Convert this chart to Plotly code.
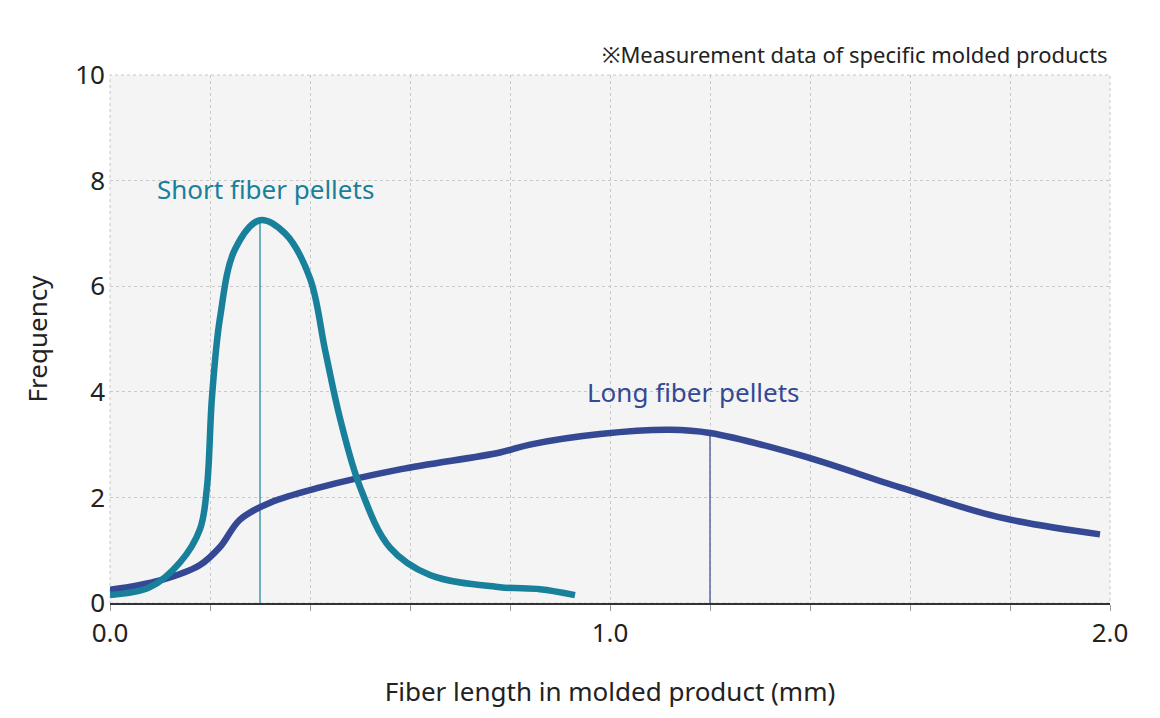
import plotly.graph_objects as go

# Short fiber pellets
short_x = [0.0, 0.08, 0.14, 0.18, 0.194, 0.204, 0.22, 0.25, 0.3, 0.35, 0.4, 0.43, 0.46, 0.5, 0.56, 0.64, 0.78, 0.86, 0.93]
short_y = [0.15, 0.3, 0.77, 1.4, 2.2, 3.9, 5.4, 6.7, 7.25, 7.0, 6.15, 4.8, 3.5, 2.2, 1.05, 0.53, 0.3, 0.26, 0.15]
short_peak = (0.3, 7.22)

# Long fiber pellets
long_x = [0.0, 0.1, 0.18, 0.22, 0.26, 0.32, 0.42, 0.58, 0.78, 0.84, 0.98, 1.12, 1.2, 1.38, 1.58, 1.78, 1.98]
long_y = [0.25, 0.43, 0.72, 1.06, 1.58, 1.9, 2.19, 2.53, 2.85, 3.0, 3.2, 3.28, 3.22, 2.8, 2.19, 1.62, 1.3]
long_peak = (1.2, 3.22)

teal = "#18809b"
navy = "#344893"
font = "Noto Sans"

fig = go.Figure()
fig.add_trace(go.Scatter(x=[short_peak[0]] * 2, y=[0, short_peak[1]], mode="lines",
                         line=dict(color=teal, width=1.2), showlegend=False))
fig.add_trace(go.Scatter(x=[long_peak[0]] * 2, y=[0, long_peak[1]], mode="lines",
                         line=dict(color=navy, width=1.2), showlegend=False))
fig.add_trace(go.Scatter(x=long_x, y=long_y, mode="lines", line=dict(color=navy, width=6.5, shape="spline"),
                         showlegend=False))
fig.add_trace(go.Scatter(x=short_x, y=short_y, mode="lines", line=dict(color=teal, width=6.5, shape="spline"),
                         showlegend=False))

fig.add_annotation(x=0.09, y=7.85, text="Short fiber pellets", showarrow=False, xanchor="left",
                   font=dict(color=teal, size=26, family=font))
fig.add_annotation(x=0.95, y=4.0, text="Long fiber pellets", showarrow=False, xanchor="left",
                   font=dict(color=navy, size=26, family=font))
fig.add_annotation(x=1.0, y=1.0, xref="paper", yref="paper", yshift=38, xanchor="right",
                   text="※Measurement data of specific molded products", showarrow=False,
                   font=dict(color="#222", size=22, family=font))

fig.update_layout(
    width=1160, height=718,
    margin=dict(l=102, r=58, t=67, b=123),
    plot_bgcolor="#f4f4f4", paper_bgcolor="white",
    font=dict(family=font, color="#222"),
    xaxis=dict(range=[0, 2.0], tickvals=[0, 0.2, 0.4, 0.6, 0.8, 1.0, 1.2, 1.4, 1.6, 1.8, 2.0],
               ticktext=["0.0", "", "", "", "", "1.0", "", "", "", "", "2.0"],
               ticks="outside", ticklen=6, tickcolor="#999",
               showgrid=True, gridcolor="#c8c8c8", griddash="dot", zeroline=False,
               showline=True, linecolor="#333", linewidth=1.5, mirror=False,
               tickfont=dict(size=26),
               title=dict(text="Fiber length in molded product (mm)", font=dict(size=26), standoff=34)),
    yaxis=dict(range=[0, 10], tickvals=[0, 2, 4, 6, 8, 10],
               showgrid=True, gridcolor="#c8c8c8", griddash="dot", zeroline=False,
               showline=False, tickfont=dict(size=26), ticklabelstandoff=4,
               title=dict(text="Frequency", font=dict(size=26), standoff=20)),
    shapes=[dict(type="rect", xref="paper", yref="paper", x0=0, y0=0, x1=1, y1=1,
                 line=dict(color="#c8c8c8", width=1, dash="dot"), layer="below")],
)

fig.write_html("out.html")
